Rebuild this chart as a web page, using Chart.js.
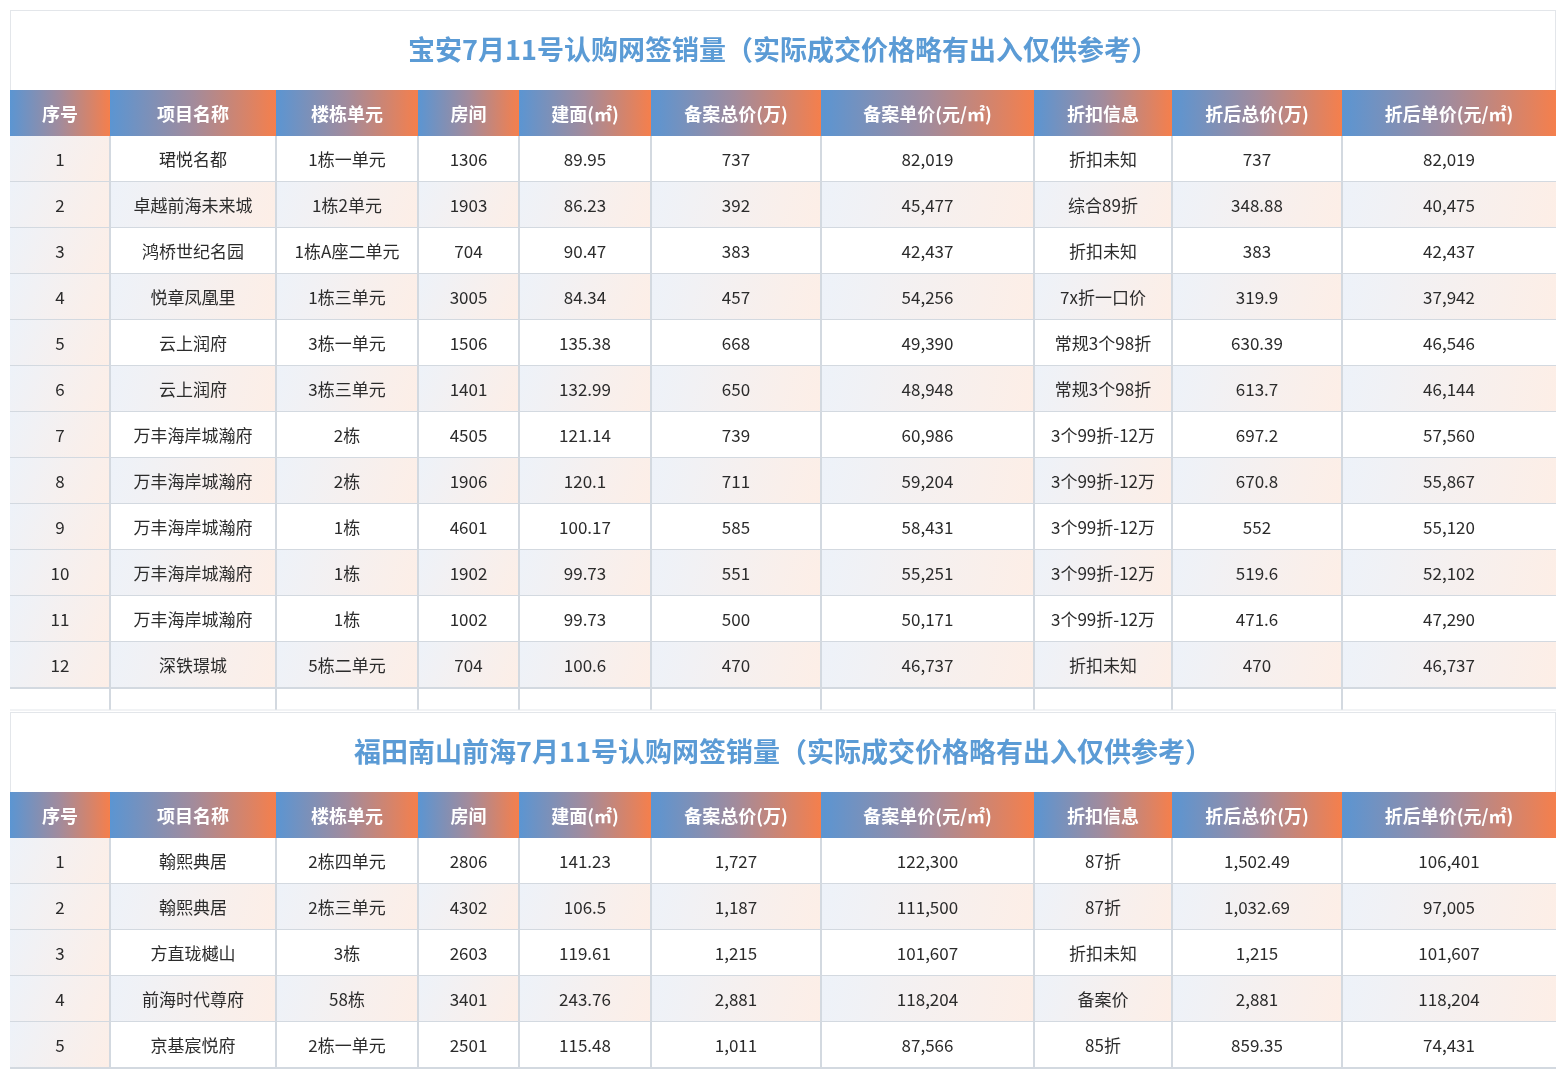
<!DOCTYPE html>
<html><head><meta charset="utf-8">
<script src="https://cdn.jsdelivr.net/npm/chart.js@4"></script>
<style>html,body{margin:0;padding:0;background:#fff}</style>
</head><body>
<canvas id="c" width="1565" height="1080"></canvas>
<script>
const headers = ["序号","项目名称","楼栋单元","房间","建面(㎡)","备案总价(万)","备案单价(元/㎡)","折扣信息","折后总价(万)","折后单价(元/㎡)"];
const title1 = "宝安7月11号认购网签销量（实际成交价格略有出入仅供参考）";
const title2 = "福田南山前海7月11号认购网签销量（实际成交价格略有出入仅供参考）";
const projects1 = ["珺悦名都","卓越前海未来城","鸿桥世纪名园","悦章凤凰里","云上润府","云上润府","万丰海岸城瀚府","万丰海岸城瀚府","万丰海岸城瀚府","万丰海岸城瀚府","万丰海岸城瀚府","深铁璟城"];
const units1 = ["1栋一单元","1栋2单元","1栋A座二单元","1栋三单元","3栋一单元","3栋三单元","2栋","2栋","1栋","1栋","1栋","5栋二单元"];
const rooms1 = ["1306","1903","704","3005","1506","1401","4505","1906","4601","1902","1002","704"];
const area1 = ["89.95","86.23","90.47","84.34","135.38","132.99","121.14","120.1","100.17","99.73","99.73","100.6"];
const total1 = ["737","392","383","457","668","650","739","711","585","551","500","470"];
const unitPrice1 = ["82,019","45,477","42,437","54,256","49,390","48,948","60,986","59,204","58,431","55,251","50,171","46,737"];
const discount1 = ["折扣未知","综合89折","折扣未知","7x折一口价","常规3个98折","常规3个98折","3个99折-12万","3个99折-12万","3个99折-12万","3个99折-12万","3个99折-12万","折扣未知"];
const netTotal1 = ["737","348.88","383","319.9","630.39","613.7","697.2","670.8","552","519.6","471.6","470"];
const netUnit1 = ["82,019","40,475","42,437","37,942","46,546","46,144","57,560","55,867","55,120","52,102","47,290","46,737"];
const projects2 = ["翰熙典居","翰熙典居","方直珑樾山","前海时代尊府","京基宸悦府"];
const units2 = ["2栋四单元","2栋三单元","3栋","58栋","2栋一单元"];
const rooms2 = ["2806","4302","2603","3401","2501"];
const area2 = ["141.23","106.5","119.61","243.76","115.48"];
const total2 = ["1,727","1,187","1,215","2,881","1,011"];
const unitPrice2 = ["122,300","111,500","101,607","118,204","87,566"];
const discount2 = ["87折","87折","折扣未知","备案价","85折"];
const netTotal2 = ["1,502.49","1,032.69","1,215","2,881","859.35"];
const netUnit2 = ["106,401","97,005","101,607","118,204","74,431"];

function rowsOf(p,u,r,a,t,up,d,nt,nu){return p.map((_,i)=>[String(i+1),p[i],u[i],r[i],a[i],t[i],up[i],d[i],nt[i],nu[i]]);}
const body1 = rowsOf(projects1,units1,rooms1,area1,total1,unitPrice1,discount1,netTotal1,netUnit1);
const body2 = rowsOf(projects2,units2,rooms2,area2,total2,unitPrice2,discount2,netTotal2,netUnit2);

// layout (scale units)
const colEdges = [10,110,276,418,519,651,821,1034,1172,1342,1556];
const sections = [{title:title1, top:10, rows:body1, spacer:true},{title:title2, top:712, rows:body2, spacer:false}];
const TITLE_H=80, HEAD_H=46, ROW_H=46, SPACER_H=22;

const tablePlugin = {
  id:'table',
  afterDraw(chart){
    const ctx=chart.ctx, xs=chart.scales.x, ys=chart.scales.y;
    const X=v=>xs.getPixelForValue(v), Y=v=>ys.getPixelForValue(v);
    const L=X(colEdges[0]), R=X(colEdges[colEdges.length-1]);
    ctx.save();
    sections.forEach(sec=>{
      const t0=Y(sec.top), t1=Y(sec.top+TITLE_H);
      ctx.strokeStyle='#e3e6ea'; ctx.lineWidth=1;
      ctx.strokeRect(L+0.5,t0+0.5,R-L-1,t1-t0);
      ctx.fillStyle='#5b9bd5'; ctx.font='bold 27px "Noto Sans CJK SC", sans-serif';
      ctx.textAlign='center'; ctx.textBaseline='middle';
      ctx.fillText(sec.title,(L+R)/2,(t0+t1)/2);
      // header
      const h0=t1, h1=Y(sec.top+TITLE_H+HEAD_H);
      for(let c=0;c<headers.length;c++){
        const a=X(colEdges[c]), b=X(colEdges[c+1]);
        const g=ctx.createLinearGradient(a,h0,b,h0);
        g.addColorStop(0,'#5b95d2'); g.addColorStop(0.5,'#a28b9c'); g.addColorStop(1,'#f57f4c');
        ctx.fillStyle=g; ctx.fillRect(a,h0,b-a,h1-h0);
        ctx.fillStyle='#fff'; ctx.font='bold 18px "Noto Sans CJK SC", sans-serif';
        ctx.fillText(headers[c],(a+b)/2,(h0+h1)/2+1);
      }
      // body
      let yTop=sec.top+TITLE_H+HEAD_H;
      sec.rows.forEach((row,ri)=>{
        const r0=Y(yTop), r1=Y(yTop+ROW_H);
        for(let c=0;c<row.length;c++){
          const a=X(colEdges[c]), b=X(colEdges[c+1]);
          const tinted = c===0 || ri%2===1;
          if(tinted){
            const g=ctx.createLinearGradient(a,r0,b,r1);
            g.addColorStop(0,'#edf2f9'); g.addColorStop(1,'#fdeee6');
            ctx.fillStyle=g;
          } else ctx.fillStyle='#ffffff';
          ctx.fillRect(a,r0,b-a,r1-r0);
          ctx.fillStyle='#2b2b2b'; ctx.font='17px "Noto Sans CJK SC", sans-serif';
          ctx.fillText(row[c],(a+b)/2,(r0+r1)/2+1);
        }
        ctx.strokeStyle='#d3d9e0'; ctx.lineWidth=2;
        ctx.beginPath(); ctx.moveTo(L,r1); ctx.lineTo(R,r1); ctx.stroke();
        yTop+=ROW_H;
      });
      const bodyBottom=Y(yTop);
      let lineBottom=bodyBottom;
      if(sec.spacer){ lineBottom=Y(yTop+SPACER_H); }
      ctx.strokeStyle='#d3d9e0'; ctx.lineWidth=2;
      for(let c=1;c<colEdges.length-1;c++){
        const a=X(colEdges[c]);
        ctx.beginPath(); ctx.moveTo(a,h1); ctx.lineTo(a,lineBottom); ctx.stroke();
      }
      if(sec.spacer){ctx.lineWidth=1;ctx.strokeStyle='#e3e6ea';ctx.beginPath();ctx.moveTo(L,lineBottom);ctx.lineTo(R,lineBottom);ctx.stroke();}
    });
    ctx.restore();
  }
};

new Chart(document.getElementById('c'),{
  type:'scatter',
  data:{datasets:[{data:[]}]},
  options:{
    responsive:false, animation:false,
    layout:{padding:0},
    plugins:{legend:{display:false},tooltip:{enabled:false}},
    scales:{
      x:{type:'linear',min:0,max:1565,display:false},
      y:{type:'linear',min:0,max:1080,reverse:true,display:false}
    }
  },
  plugins:[tablePlugin]
});
</script>
</body></html>
